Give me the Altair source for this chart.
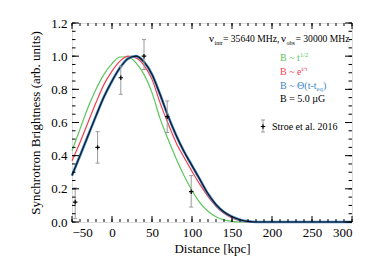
import altair as alt
import pandas as pd

# ---------------- data ----------------
dist = [-50, -40, -30, -20, -10, 0, 10, 20, 30, 40, 50, 60, 70, 80, 90, 100,
        110, 120, 130, 140, 150, 160, 170, 180, 190, 200, 210, 220, 230, 240,
        250, 260, 270, 280, 290, 300]
green = [0.43, 0.56, 0.69, 0.80, 0.89, 0.955, 0.995, 0.995, 0.96, 0.89, 0.78,
         0.625, 0.50, 0.385, 0.28, 0.19, 0.115, 0.065, 0.032, 0.013, 0.004, 0.0,
         0, 0, 0, 0, 0, 0, 0, 0, 0, 0, 0, 0, 0, 0]
red = [0.37, 0.48, 0.60, 0.72, 0.83, 0.91, 0.97, 1.0, 0.99, 0.945, 0.86,
       0.72, 0.595, 0.48, 0.39, 0.305, 0.225, 0.155, 0.095, 0.052, 0.024, 0.008,
       0.0, 0, 0, 0, 0, 0, 0, 0, 0, 0, 0, 0, 0, 0]
blue = [0.28, 0.40, 0.52, 0.64, 0.755, 0.85, 0.93, 0.985, 1.0, 0.965, 0.89,
        0.77, 0.64, 0.525, 0.425, 0.34, 0.255, 0.17, 0.105, 0.06, 0.032, 0.014,
        0.004, 0.0, 0, 0, 0, 0, 0, 0, 0, 0, 0, 0, 0, 0]

obs_x = [-46, -18, 11, 40, 69, 99]
obs_y = [0.12, 0.45, 0.87, 1.0, 0.635, 0.183]
obs_lo = [0.02, 0.355, 0.77, 0.92, 0.54, 0.09]
obs_hi = [0.205, 0.545, 0.94, 1.10, 0.73, 0.28]

x_major = [-50, 0, 50, 100, 150, 200, 250, 300]
y_major = [0.0, 0.2, 0.4, 0.6, 0.8, 1.0, 1.2]
x_minor = [v for v in range(-50, 301, 10)]
y_minor = [round(i * 0.05, 2) for i in range(0, 25)]

# ---------------- layout ----------------
W, H = 280, 199
XMIN, XMAX, YMIN, YMAX = -50, 300, 0.0, 1.2
FONT = "Liberation Serif"


def dx(px):  # page pixel -> data x
    return (px - 72) / (W / (XMAX - XMIN)) + XMIN


def dy(py):  # page pixel -> data y
    return (222 - py) / (H / (YMAX - YMIN))


xs = alt.Scale(domain=[XMIN, XMAX], nice=False, zero=False)
ys = alt.Scale(domain=[YMIN, YMAX], nice=False, zero=False)
XT = "Distance [kpc]"
YT = "Synchrotron Brightness (arb. units)"
xaxis = alt.Axis(values=x_major, format="d", ticks=False, tickSize=0, domain=False,
                 grid=False, labelFont=FONT, labelFontSize=13, labelColor="black",
                 labelPadding=4, titleFont=FONT, titleFontSize=13,
                 titleFontWeight="normal", titleColor="black", titlePadding=3)
yaxis = alt.Axis(values=y_major, format=".1f", ticks=False, tickSize=0, domain=False,
                 grid=False, labelFont=FONT, labelFontSize=13, labelColor="black",
                 labelPadding=5, titleFont=FONT, titleFontSize=13,
                 titleFontWeight="normal", titleColor="black", titlePadding=8)


def X(f):
    return alt.X(f, scale=xs, axis=xaxis, title=XT)


def Y(f):
    return alt.Y(f, scale=ys, axis=yaxis, title=YT)


curves = pd.DataFrame({
    "d": dist * 3,
    "b": green + red + blue,
    "s": ["g"] * len(dist) + ["r"] * len(dist) + ["b"] * len(dist),
})
cdf_g = curves[curves.s == "g"]
cdf_r = curves[curves.s == "r"]
cdf_b = curves[curves.s == "b"]


def line(df, color, width):
    return alt.Chart(df).mark_line(color=color, strokeWidth=width, interpolate="monotone").encode(
        x=X("d:Q"), y=Y("b:Q"))


l_green = line(cdf_g, "#5cc65c", 1.2)
l_red = line(cdf_r, "#f0404f", 1.2)
l_blue = line(cdf_b, "#3d86cc", 2.6)
l_black = line(cdf_b, "#111111", 1.1)

obs = pd.DataFrame({"x": obs_x, "y": obs_y, "lo": obs_lo, "hi": obs_hi})
leg_sym = pd.DataFrame({"x": [dx(263)], "y": [dy(126.5)], "lo": [dy(132)], "hi": [dy(120)]})
allsym = pd.concat([obs, leg_sym])

err = alt.Chart(allsym).mark_rule(color="#9a9a9a", strokeWidth=1).encode(
    x=X("x:Q"), y=Y("lo:Q"), y2="hi:Q")
cap_lo = alt.Chart(allsym).mark_point(shape="M-1,0L1,0", size=16, color="#9a9a9a",
                                      strokeWidth=1, filled=False, opacity=1).encode(
    x=X("x:Q"), y=Y("lo:Q"))
cap_hi = alt.Chart(allsym).mark_point(shape="M-1,0L1,0", size=16, color="#9a9a9a",
                                      strokeWidth=1, filled=False, opacity=1).encode(
    x=X("x:Q"), y=Y("hi:Q"))
pts = alt.Chart(allsym).mark_point(shape="M-1,0L1,0M0,-1L0,1", size=20, color="black",
                                   strokeWidth=1.2, filled=False, opacity=1).encode(
    x=X("x:Q"), y=Y("y:Q"))

# tick marks (inward, mirrored on all four sides)
xmaj = pd.DataFrame({"v": x_major})
xmin_ = pd.DataFrame({"v": x_minor})
ymaj = pd.DataFrame({"v": y_major})
ymin_ = pd.DataFrame({"v": y_minor})


def xticks(df, ln):
    bot = alt.Chart(df).mark_rule(color="black", strokeWidth=1).encode(
        x=X("v:Q"), y=alt.value(H), y2=alt.value(H - ln))
    top = alt.Chart(df).mark_rule(color="black", strokeWidth=1).encode(
        x=X("v:Q"), y=alt.value(0), y2=alt.value(ln))
    return [bot, top]


def yticks(df, ln):
    left = alt.Chart(df).mark_rule(color="black", strokeWidth=1).encode(
        y=Y("v:Q"), x=alt.value(0), x2=alt.value(ln))
    right = alt.Chart(df).mark_rule(color="black", strokeWidth=1).encode(
        y=Y("v:Q"), x=alt.value(W), x2=alt.value(W - ln))
    return [left, right]


ticks = xticks(xmaj, 6) + xticks(xmin_, 3) + yticks(ymaj, 7) + yticks(ymin_, 3.5)

# annotations
K = "black"
ann_rows = [
    ("ν", 209, 42, 11, K), ("intr", 214.5, 44.5, 6, K), ("= 35640 MHz,", 223, 42, 9.6, K),
    ("ν", 281, 42, 11, K), ("obs", 286.5, 44.5, 6, K), ("= 30000 MHz", 295.5, 42, 9.6, K),
    ("B ~ t", 280, 61, 10, "#5cc65c"), ("1/2", 300, 57, 6.5, "#5cc65c"),
    ("B ~ e", 280, 75, 10, "#f0404f"), ("t/τ", 301.5, 71, 6.5, "#f0404f"),
    ("B ~ Θ(t-t", 280, 88.5, 10, "#3d86cc"), ("eq", 316.5, 91, 6.5, "#3d86cc"),
    (")", 323, 88.5, 10, "#3d86cc"),
    ("B = 5.0 µG", 280, 102, 10, K),
    ("Stroe et al. 2016", 272, 130, 10, K),
]
ann = pd.DataFrame({
    "t": [r[0] for r in ann_rows],
    "x": [dx(r[1]) for r in ann_rows],
    "y": [dy(r[2]) for r in ann_rows],
    "s": [r[3] for r in ann_rows],
    "c": [r[4] for r in ann_rows],
})
texts = alt.Chart(ann).mark_text(align="left", baseline="alphabetic", font=FONT).encode(
    x=X("x:Q"), y=Y("y:Q"),
    text="t:N", size=alt.Size("s:Q", scale=None, legend=None),
    color=alt.Color("c:N", scale=None, legend=None))

chart = alt.layer(
    l_green, l_red, l_blue, l_black, err, cap_lo, cap_hi, pts, texts, *ticks
).properties(
    width=W, height=H,
    autosize=alt.AutoSizeParams(type="none"),
    padding={"left": 64, "top": 15, "right": 14, "bottom": 37},
).configure_view(stroke="black", strokeWidth=1).configure(background="white")

chart.save("out.html", embed_options={"renderer": "svg", "actions": False})
